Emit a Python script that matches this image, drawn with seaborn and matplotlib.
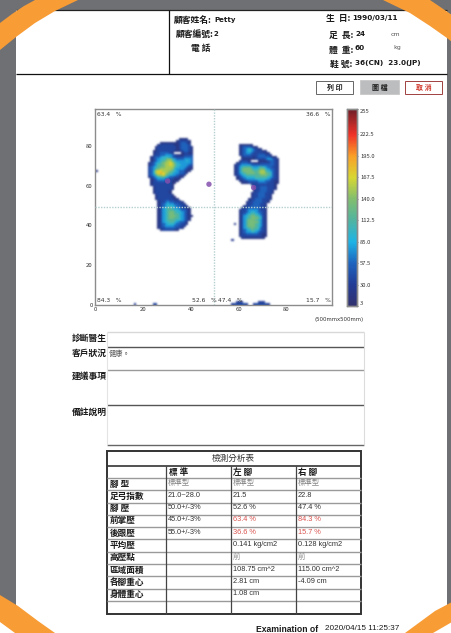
import numpy as np
import pandas as pd
import matplotlib
matplotlib.use("Agg")
import matplotlib.pyplot as plt
from matplotlib.colors import LinearSegmentedColormap
from matplotlib.patches import Rectangle, Polygon
import seaborn as sns

# ---------- data ----------
# pressure levels read per sensor cell, top row first ('.' = no contact)
left_foot = [
".............1111..",
"............122221.",
".....1111111123321.",
"....12222221123332.",
"...1222222221233321",
"...1222222221233321",
"..11222222211123321",
"..122333321...12211",
"..12233444321112222",
".123345554322223333",
".123455677543334443",
".123456788654444543",
"1234567889865444443",
"1234667889875544432",
"2345677888865444321",
"2346788888754443211",
"235899888765433211.",
"23589a98765443321..",
"2346889765443221...",
"123456654332211....",
".1234443322111.....",
".122333222111......",
".12222222211.......",
".1222222221........",
"..122222221........",
"..122222221........",
"..12222221.........",
"..12222221.........",
"...12222221........",
"...122222211.......",
"...1222222211......",
"....1223322221.....",
"....12234332221....",
"....123454433221...",
"....1234555433221..",
"....12456654432211.",
"....12456665543321.",
"....12456776554321.",
"....12456776654321.",
"....124567776543211",
"....12456776654321.",
"....12456666554321.",
"....1245566543321..",
"....1234555433221..",
"....123444433221...",
"....12233333221....",
".....12222211......",
]
right_foot = [
"..111111...........",
"..12333211.........",
"..1234543211.......",
"..123454322211.....",
"..1234432222211....",
"..12333222333221...",
"...122221233333211.",
"...1111112222344321",
"..12221...111123321",
".123332211122223321",
"1234444333333333321",
"1245666544565433221",
"1246777655677543321",
"1246777766788654321",
"1245677776788765321",
"1234566666677765321",
".123455556666654321",
".122344445555543221",
"..11223333444332211",
"...1112222333322211",
".......12222222221.",
"........1223332221.",
"........1223332221.",
"........122333221..",
".......1223332221..",
".......122333221...",
".......122333221...",
"......1223332221...",
"......122333221....",
".....1223333221....",
".....122333221.....",
"....1223333221.....",
"...12233333221.....",
"..122344443221.....",
"..122345543321.....",
"..123456654321.....",
"..124567765421.....",
"..124567776521.....",
"..124677765421.....",
"..124677776421.....",
"1.124677765421.....",
"..124677765421.....",
"..124567665321.....",
"..123456654321.....",
"..123445543221.....",
"..122333332211.....",
"..122222222211.....",
"...1111111111......",
]
stray_x = [57, 16, 24, 25, 99, 0, 57, 58, 59, 60, 61, 62, 63, 59, 60, 61, 66, 67, 68, 69, 70, 71, 72, 68, 69, 70]
stray_y = [32, 0, 0, 0, 86, 67, 0, 0, 0, 0, 0, 0, 0, 1, 1, 1, 0, 0, 0, 0, 0, 0, 0, 1, 1, 1]
stray_v = [25, 30, 35, 35, 20, 20, 30, 40, 40, 40, 40, 40, 30, 30, 30, 30, 30, 40, 40, 40, 40, 40, 30, 30, 30, 30]
cog_x = [30.3, 47.6, 66.3]
cog_y = [62.3, 60.7, 59.0]
cbar_values = [3, 30, 57.5, 85, 112.5, 140, 167.5, 195, 222.5, 255]
cbar_colors = ["#32326e", "#233c96", "#1e64be", "#1eb4e6", "#50b4a0", "#82be6e", "#d7d732", "#faa028", "#f03228", "#6e1e28"]
axis_ticks = [0, 20, 40, 60, 80]
level_value = 19

table_title = "檢測分析表"
table_head = ["標 準", "左 腳", "右 腳"]
table_rows = ["腳 型", "足弓指數", "腳 壓", "前掌壓", "後跟壓", "平均壓", "高壓點", "區域面積", "各腳重心", "身體重心", ""]
col_standard = ["標準型", "21.0~28.0", "50.0+/-3%", "45.0+/-3%", "55.0+/-3%", "", "", "", "", "", ""]
col_left = ["標準型", "21.5", "52.6 %", "63.4 %", "36.6 %", "0.141 kg/cm2", "前", "108.75 cm^2", "2.81 cm", "1.08 cm", ""]
col_right = ["標準型", "22.8", "47.4 %", "84.3 %", "15.7 %", "0.128 kg/cm2", "前", "115.00 cm^2", "-4.09 cm", "", ""]
red_values = ["63.4 %", "84.3 %", "36.6 %", "15.7 %"]
gray_values = ["標準型", "前"]

# ---------- assemble pressure matrix ----------
heat = np.full((100, 100), np.nan)
def place(rows, x0, ytop):
    for i, row in enumerate(rows):
        for j, ch in enumerate(row):
            if ch != ".":
                heat[ytop - i, x0 + j] = int(ch, 16) * level_value
place(left_foot, 22, 83)
place(right_foot, 58, 80)
for sx, sy, sv in zip(stray_x, stray_y, stray_v):
    heat[sy, sx] = sv
heat_df = pd.DataFrame(heat)

# ---------- style ----------
sns.set_theme(style="white")
plt.rcParams["font.family"] = ["Noto Sans CJK TC", "DejaVu Sans"]
W, H = 452, 633
pos = [(v - 3) / 252 for v in cbar_values]
cmap = LinearSegmentedColormap.from_list("scan", list(zip(pos, cbar_colors)))
cmap.set_bad("white")

def soft_edges(img, dpi):
    # display-only softening of the sensor mesh, as in the scanned reference
    k = np.array([0.06, 0.24, 0.40, 0.24, 0.06])
    pad = 6
    out = np.pad(img[..., :3], ((pad, pad), (pad, pad), (0, 0)), mode="edge")
    out = np.apply_along_axis(lambda m: np.convolve(m, k, mode="same"), 0, out)
    out = np.apply_along_axis(lambda m: np.convolve(m, k, mode="same"), 1, out)
    out = out[pad:-pad, pad:-pad]
    return np.dstack([out, img[..., 3]]), 0, 0

fig = plt.figure(figsize=(W / 100, H / 100), dpi=100, facecolor="white")
def box(l, t, r, b):
    return [l / W, 1 - b / H, (r - l) / W, (b - t) / H]

ax = fig.add_axes(box(95.3, 109, 331.7, 304.7))
cax = fig.add_axes(box(346.7, 109, 356.7, 306))
sns.heatmap(heat_df, ax=ax, cbar_ax=cax, cmap=cmap, vmin=3, vmax=255,
            xticklabels=False, yticklabels=False, cbar_kws={"ticks": cbar_values})
ax.collections[0].set_agg_filter(soft_edges)
ax.set_xlim(0, 99)
ax.set_ylim(0, 98.6)
ax.set_xlabel(""); ax.set_ylabel("")
ax.set_xticks(axis_ticks); ax.set_xticklabels(axis_ticks)
ax.set_yticks(axis_ticks); ax.set_yticklabels(axis_ticks, rotation=0)
ax.tick_params(axis="both", labelsize=4.3, colors="#333333", length=1.5, width=0.4, direction="in", pad=2,
               bottom=True, left=True)
for s in ax.spines.values():
    s.set_visible(True); s.set_color("#8c8c8c"); s.set_linewidth(1.0)
ax.axvline(49.7, color="#b5cfd0", lw=1.0, ls=(0, (1, 1)), zorder=3)
ax.axhline(49.2, color="#b5cfd0", lw=1.0, ls=(0, (1, 1)), zorder=3)
sns.scatterplot(x=cog_x, y=cog_y, ax=ax, color="#8450ad", s=15, legend=False, alpha=0.85,
                edgecolor="none", zorder=4)
ax.set_xlim(0, 99); ax.set_ylim(0, 98.6)

cax.tick_params(labelsize=4.2, colors="#333333", length=1, width=0.4, pad=1.5, right=True)
labels = ["3", "30.0", "57.5", "85.0", "112.5", "140.0", "167.5", "195.0", "222.5", "255"]
cax.set_yticks(cbar_values); cax.set_yticklabels(labels)
tl = cax.get_yticklabels()
tl[0].set_va("bottom"); tl[-1].set_va("top")
for s in cax.spines.values():
    s.set_visible(True); s.set_color("#8c8c8c"); s.set_linewidth(1.0)

# ---------- page overlay in pixel coordinates ----------
pg = fig.add_axes([0, 0, 1, 1], zorder=5)
pg.set_xlim(0, W); pg.set_ylim(H, 0); pg.axis("off"); pg.patch.set_alpha(0)
GRAY = "#6f7073"; ORANGE = "#f89c36"
pg.add_patch(Rectangle((0, 0), W, 9.5, fc=GRAY, ec="none"))
pg.add_patch(Rectangle((0, 0), 16, 610, fc=GRAY, ec="none"))
pg.add_patch(Rectangle((447, 0), 5, 610, fc=GRAY, ec="none"))
pg.add_patch(Polygon([(0, 23), (12, 14), (24, 6), (35, 0), (78, 0), (55, 11), (35, 23), (16, 37), (0, 50)], fc=ORANGE, ec="none", zorder=3))
pg.add_patch(Polygon([(383, 0), (410, 13), (430, 26), (447, 38), (452, 42), (452, 15), (430, 0)], fc=ORANGE, ec="none", zorder=3))
pg.add_patch(Polygon([(0, 595), (18, 606), (38, 621), (55, 633), (15, 633), (0, 622)], fc=ORANGE, ec="none", zorder=3))
pg.add_patch(Polygon([(452, 602), (435, 611), (420, 622), (405, 633), (433, 633), (452, 622)], fc=ORANGE, ec="none", zorder=3))

def hline(x0, x1, y, c="black", lw=1.0):
    pg.plot([x0, x1], [y, y], color=c, lw=lw, solid_capstyle="butt")
def vline(x, y0, y1, c="black", lw=1.0):
    pg.plot([x, x], [y0, y1], color=c, lw=lw, solid_capstyle="butt")
def txt(x, y, s, size=5.5, c="#1a1a1a", w="normal", ha="left", fam=None):
    kw = {"family": fam} if fam else {}
    pg.text(x, y, s, fontsize=size, color=c, fontweight=w, ha=ha, va="center", **kw)

hline(16, 447, 9.5, "#222222", 0.9)
hline(16, 447, 74, "#111111", 0.9)
vline(169.5, 9.5, 74, "#111111", 0.9)

LS = "Liberation Sans"
txt(174, 20, "顧客姓名:", 6.3, w="bold")
txt(214, 20, "Petty", 5, w="bold", fam="DejaVu Sans")
txt(176, 34, "顧客編號:", 6.3, w="bold")
txt(214, 34, "2", 5, w="bold", fam="DejaVu Sans")
txt(191, 49, "電 話", 6.3, w="bold")
txt(326, 18, "生  日:", 6.3, w="bold")
txt(352, 18, "1990/03/11", 5.2, w="bold", fam="DejaVu Sans")
txt(329, 35, "足  長:", 6.3, w="bold")
txt(355, 34, "24", 5.2, w="bold", fam="DejaVu Sans")
txt(391, 35, "cm", 4.5, c="#555555", fam="DejaVu Sans")
txt(329, 50, "體  重:", 6.3, w="bold")
txt(355, 48.5, "60", 5.2, w="bold", fam="DejaVu Sans")
txt(393, 47.5, "kg", 4.5, c="#555555", fam="DejaVu Sans")
txt(330, 64, "鞋 號:", 6.3, w="bold")
txt(355, 63.5, "36(CN)  23.0(JP)", 5.2, w="bold", fam="DejaVu Sans")

# buttons
pg.add_patch(Rectangle((316.5, 80.5), 37, 13.5, fc="white", ec="#666666", lw=0.7))
pg.add_patch(Rectangle((360.5, 80), 38.5, 14, fc="#bcbdbf", ec="#c8c8c8", lw=0.6))
pg.add_patch(Rectangle((405, 80.5), 37, 13.5, fc="white", ec="#a04040", lw=0.7))
txt(335, 87.5, "列 印", 5, w="bold", ha="center")
txt(380, 87.5, "圖 檔", 5, w="bold", ha="center")
txt(423.5, 87.5, "取 消", 5, c="#d23a2e", w="bold", ha="center")

# axis annotations
ct = "#333333"
txt(96.7, 114.7, "63.4   %", 4.3, c=ct, fam="DejaVu Sans")
txt(330.7, 114.7, "36.6   %", 4.3, c=ct, ha="right", fam="DejaVu Sans")
txt(96.7, 300.3, "84.3   %", 4.3, c=ct, fam="DejaVu Sans")
txt(191.7, 300.3, "52.6   %", 4.3, c=ct, fam="DejaVu Sans")
txt(217.7, 300.3, "47.4   %", 4.3, c=ct, fam="DejaVu Sans")
txt(330.7, 300.3, "15.7   %", 4.3, c=ct, ha="right", fam="DejaVu Sans")
txt(315, 319.5, "(500mmx500mm)", 3.9, c=ct, fam="DejaVu Sans")

# form area
hline(107, 364, 332, "#d8d8d8", 1.0)
hline(107, 364, 346.5, "#555555", 1.0)
hline(107, 364, 369.5, "#9a9a9a", 1.0)
hline(107, 364, 404.5, "#555555", 1.0)
hline(107, 364, 445, "#666666", 1.0)
vline(107, 332, 445, "#e4e4e4", 0.8)
vline(364, 332, 445, "#dcdcdc", 0.8)
for y, s in [(338, "診斷醫生"), (353, "客戶狀況"), (376, "建議事項"), (412, "備註說明")]:
    txt(72, y, s, 6.3, w="bold")
txt(108.5, 354, "健康。", 5.2, c="#555555")

# table
T, L, R, Bm = 451, 106.7, 361, 614
row_lines = [466, 478, 490.3, 502.7, 515, 527, 539.3, 551.7, 564, 576.3, 588.7, 601]
col_lines = [165.7, 230.7, 295.7]
for i, y in enumerate(row_lines):
    hline(L, R, y, "#333333" if i == 0 else "#9a9a9a", 1.2 if i == 0 else 1.0)
for x in col_lines:
    vline(x, 466, Bm, "#444444", 0.9)
pg.add_patch(Rectangle((L, T), R - L, Bm - T, fc="none", ec="#333333", lw=1.4))
txt(233.7, 458, table_title, 6.2, ha="center", c="#333333")
for x, s in zip([169, 233, 298], table_head):
    txt(x, 472, s, 6.2, w="bold")
def value_style(s):
    if s in red_values:
        return "#d9534f"
    if s in gray_values:
        return "#8a8a8a"
    return "#333333"
for i, (lab, a, b, c) in enumerate(zip(table_rows, col_standard, col_left, col_right)):
    y = 484 + i * 12.3
    txt(110, y, lab, 6.2, w="bold")
    for x, s in zip([168, 233, 298], (a, b, c)):
        col = value_style(s)
        txt(x, y - 1, s, 5.3, c=col, fam=[LS, "Noto Sans CJK TC"])

txt(256, 629, "Examination of", 6.2, w="bold", fam=LS)
txt(325, 629, "2020/04/15 11:25:37", 5.9, fam=LS)

fig.savefig("out.png", dpi=100)
